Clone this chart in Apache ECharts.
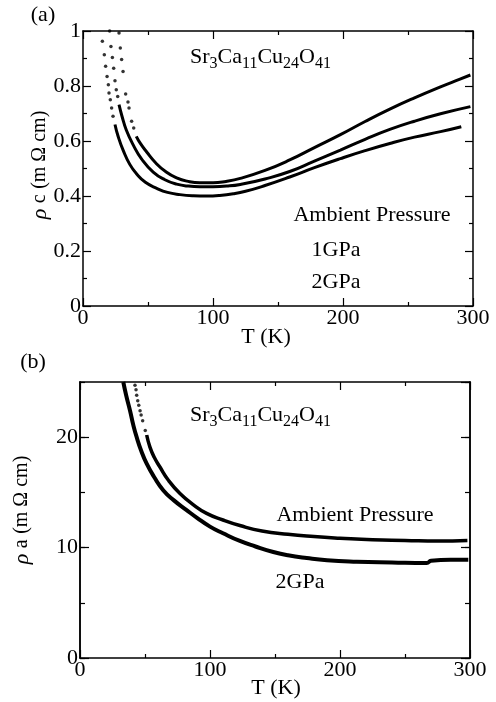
<!DOCTYPE html>
<html>
<head>
<meta charset="utf-8">
<script src="https://cdn.jsdelivr.net/npm/echarts@6/dist/echarts.min.js"></script>
<style>
  html, body { margin: 0; padding: 0; background: #fff; }
  #chart { width: 496px; height: 702px; }
</style>
</head>
<body>
<div id="chart"></div>
<script>
// panel (a): rho_c vs T, [T (K), rho (mOhm cm)]
const ambientC_dots = [[27.7,0.993],[28.7,0.938],[29.7,0.896],[30.8,0.853],[32.8,0.771],[34.6,0.742],[35.4,0.72],[37.4,0.672],[39,0.647]];
const ambientC_line = [[41,0.617],[44,0.592],[49,0.56],[56,0.52],[64,0.487],[72,0.466],[80,0.454],[90,0.448],[100,0.448],[110,0.453],[121,0.464],[140,0.493],[159,0.531],[178,0.576],[198,0.623],[217,0.671],[236,0.716],[255,0.757],[275,0.797],[290,0.825],[298,0.84]];
const gpa1C_dots = [[20.5,1.0],[21.5,0.944],[22.6,0.904],[23.6,0.865],[24.6,0.819],[25.6,0.786],[26.7,0.762]];
const gpa1C_line = [[27.7,0.732],[30,0.69],[33.3,0.64],[38.7,0.585],[45,0.535],[54,0.487],[63,0.459],[72,0.443],[81,0.436],[90,0.434],[100,0.434],[110.5,0.436],[121,0.442],[140,0.462],[159,0.489],[178,0.527],[198,0.567],[217,0.606],[236,0.642],[255,0.672],[275,0.699],[298,0.725]];
const gpa2C_dots = [[14.9,0.963],[16.4,0.914],[17.4,0.872],[18.5,0.835],[19.5,0.805],[20,0.775],[21,0.75],[22,0.72],[23.1,0.69]];
const gpa2C_line = [[24.6,0.66],[27,0.617],[31,0.565],[36,0.515],[41.3,0.48],[48,0.45],[56.7,0.428],[65,0.413],[74.6,0.405],[85,0.401],[95,0.40],[105,0.402],[115.6,0.408],[125,0.417],[140,0.438],[159,0.469],[178,0.503],[198,0.536],[217,0.565],[236,0.591],[255,0.614],[275,0.634],[291,0.652]];

// panel (b): rho_a vs T
const ambientA_dots = [[42.3,24.7],[43.1,24.3],[43.6,23.8],[44.4,23.3],[45.2,22.9],[46.2,22.4],[47,22.0],[48.2,21.5],[50.2,20.6]];
const ambientA_line = [[51.3,20.2],[53.8,19.1],[57,18.2],[61.5,17.3],[68,16.1],[76.9,14.9],[87,13.9],[97.4,13.1],[110,12.5],[123,12.0],[140,11.5],[160,11.2],[180,11.0],[200,10.85],[225,10.7],[250,10.65],[275,10.6],[298,10.65]];
const gpa2A_line = [[33.3,25.0],[35.5,23.8],[38.5,22.4],[41,21.1],[43.6,20.0],[47,18.8],[51.3,17.6],[57,16.4],[64,15.2],[72,14.3],[82,13.4],[90,12.7],[100,11.9],[110,11.3],[123,10.6],[135,10.1],[148.7,9.6],[160,9.3],[174.4,9.05],[190,8.85],[212.8,8.72],[240,8.65],[266.7,8.6],[270,8.8],[285,8.9],[298.7,8.9]];

const tempTicks = [0, 300, 100];
const font = 'Liberation Serif';

const chart = echarts.init(document.getElementById('chart'), null, { renderer: 'canvas' });

function xAx(grid, pos, labels) {
  return {
    gridIndex: grid, type: 'value', position: pos,
    min: tempTicks[0], max: tempTicks[1], interval: tempTicks[2],
    axisLine: { onZero: false, lineStyle: { color: '#000', width: 1.5 } },
    axisTick: { inside: true, length: 8, lineStyle: { color: '#000', width: 1.2 } },
    minorTick: { show: true, splitNumber: 2, length: 4, lineStyle: { color: '#000', width: 1.2 } },
    axisLabel: { show: labels, color: '#000', fontFamily: font, fontSize: 22, margin: 1 },
    splitLine: { show: false }
  };
}
function yAx(grid, pos, max, interval, labels, tickLen, minor) {
  return {
    gridIndex: grid, type: 'value', position: pos,
    min: 0, max: max, interval: interval,
    axisLine: { show: true, onZero: false, lineStyle: { color: '#000', width: 1.5 } },
    axisTick: { inside: true, length: tickLen, lineStyle: { color: '#000', width: 1.2 } },
    minorTick: { show: minor, splitNumber: 2, length: 4, lineStyle: { color: '#000', width: 1.2 } },
    axisLabel: { show: labels, showMaxLabel: max === 1, color: '#000', fontFamily: font, fontSize: 22, margin: 2 },
    splitLine: { show: false }
  };
}
function dots(data, xi, yi) {
  return { type: 'scatter', data: data, xAxisIndex: xi, yAxisIndex: yi, symbolSize: 3.5,
    itemStyle: { color: '#000' }, silent: true };
}
function curve(data, xi, yi, w) {
  return { type: 'line', data: data, xAxisIndex: xi, yAxisIndex: yi, showSymbol: false,
    smooth: 0.5,
    lineStyle: { color: '#000', width: w }, silent: true };
}

const richFormula = {
  n: { fontFamily: font, fontSize: 22, lineHeight: 30, fill: '#000' },
  s: { fontFamily: font, fontSize: 16, lineHeight: 18, verticalAlign: 'bottom', fill: '#000' }
};
const formula = '{n|Sr}{s|3}{n|Ca}{s|11}{n|Cu}{s|24}{n|O}{s|41}';
function txt(x, y, text) {
  return { type: 'text', x: x, y: y, silent: true,
    style: { text: text, font: '22px ' + font, fill: '#000', textAlign: 'center', textVerticalAlign: 'middle' } };
}
function richTxt(x, y, text, rich, align, rotation) {
  return { type: 'text', x: x, y: y, rotation: rotation || 0, silent: true,
    style: { text: text, rich: rich, font: '22px ' + font, fill: '#000', textAlign: align, textVerticalAlign: 'middle' } };
}
const richName = {
  r: { fontFamily: font, fontSize: 22, fontStyle: 'italic', fill: '#000' },
  s: { fontFamily: font, fontSize: 20, fill: '#000' },
  n: { fontFamily: font, fontSize: 20, fill: '#000' }
};

chart.setOption({
  backgroundColor: '#fff',
  animation: false,
  grid: [
    { left: 83, top: 31, width: 390, height: 275 },
    { left: 80, top: 382, width: 390, height: 276 }
  ],
  xAxis: [xAx(0, 'bottom', true), xAx(0, 'top', false), xAx(1, 'bottom', true), xAx(1, 'top', false)],
  yAxis: [
    yAx(0, 'left', 1, 0.2, true, 8, true),
    yAx(0, 'right', 1, 0.2, false, 8, true),
    yAx(1, 'left', 25, 10, true, 9, false),
    yAx(1, 'left', 25, 5, false, 5, false),
    yAx(1, 'right', 25, 10, false, 9, false),
    yAx(1, 'right', 25, 5, false, 5, false)
  ],
  series: [
    dots(ambientC_dots, 0, 0), curve(ambientC_line, 0, 0, 3),
    dots(gpa1C_dots, 0, 0), curve(gpa1C_line, 0, 0, 3),
    dots(gpa2C_dots, 0, 0), curve(gpa2C_line, 0, 0, 3),
    dots(ambientA_dots, 2, 2), curve(ambientA_line, 2, 2, 3.5),
    curve(gpa2A_line, 2, 2, 4)
  ],
  graphic: [
    txt(43, 15, '(a)'),
    txt(33, 362, '(b)'),
    richTxt(190, 57, formula, richFormula, 'left'),
    richTxt(190, 415, formula, richFormula, 'left'),
    txt(372, 215, 'Ambient Pressure'),
    txt(336, 250, '1GPa'),
    txt(336, 282, '2GPa'),
    txt(355, 515, 'Ambient Pressure'),
    txt(300, 582, '2GPa'),
    txt(266, 337, 'T (K)'),
    txt(276, 688, 'T (K)'),
    richTxt(40, 165, '{r|ρ} {s|c} {n|(m Ω cm)}', richName, 'center', Math.PI / 2),
    richTxt(22, 510, '{r|ρ} {s|a} {n|(m Ω cm)}', richName, 'center', Math.PI / 2)
  ]
});
</script>
</body>
</html>
